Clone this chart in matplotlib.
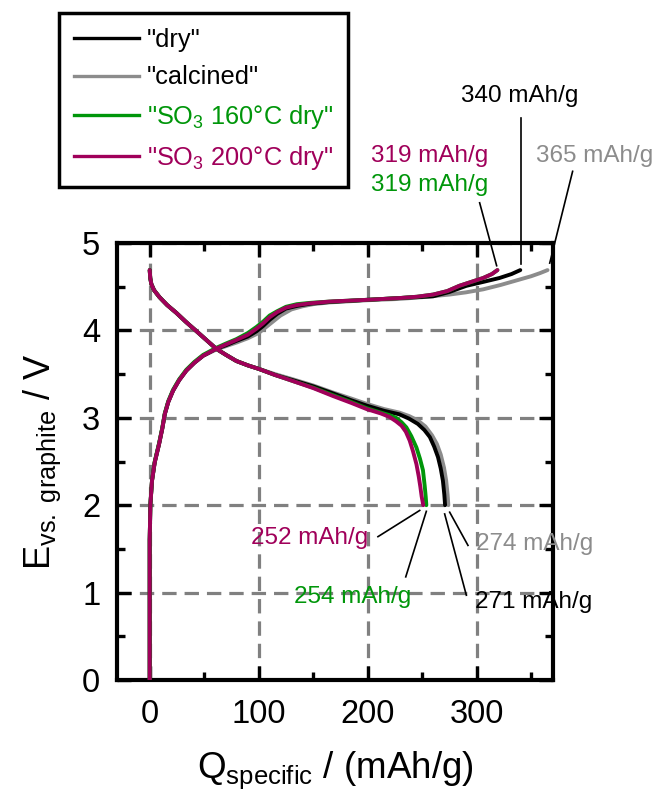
import numpy as np
import matplotlib
matplotlib.use('Agg')
import matplotlib.pyplot as plt

plt.rcParams['font.family'] = ['Liberation Sans', 'DejaVu Sans']
plt.rcParams['mathtext.fontset'] = 'custom'
plt.rcParams['mathtext.rm'] = 'Liberation Sans'
plt.rcParams['mathtext.it'] = 'Liberation Sans:italic'
plt.rcParams['mathtext.default'] = 'regular'

# 충전 곡선 (Q mAh/g, E V)
chg_q_so3_200 = [0, 0, 0.6, 2.1, 4.6, 8.6, 11.6, 13.8, 17, 21.4, 27, 33.6, 41, 49, 61, 70, 79.5, 90, 98,
                 104, 110, 117, 125, 135, 147, 165, 199.7, 229, 245, 260, 273, 284, 295, 306, 314, 319]
chg_e_so3_200 = [0, 1.6, 2.0, 2.28, 2.49, 2.7, 2.88, 3.04, 3.18, 3.31, 3.43, 3.54, 3.63, 3.71, 3.79, 3.84, 3.89, 3.95, 4.02,
                 4.08, 4.15, 4.21, 4.26, 4.29, 4.31, 4.33, 4.35, 4.37, 4.385, 4.41, 4.45, 4.51, 4.555, 4.6, 4.645, 4.69]

chg_q_so3_160 = [0, 0, 0.6, 2.1, 4.6, 8.6, 11.6, 13.8, 17, 21.4, 27, 33.6, 41, 49, 61, 70, 79.5, 90, 98,
                 104, 110, 117, 125, 135, 147, 165, 199.7, 229, 245, 260, 273, 284, 295, 306, 314, 319]
chg_e_so3_160 = [0, 1.6, 2.0, 2.28, 2.5, 2.71, 2.89, 3.05, 3.19, 3.32, 3.44, 3.55, 3.64, 3.72, 3.8, 3.85, 3.9, 3.97, 4.04,
                 4.1, 4.17, 4.22, 4.27, 4.3, 4.315, 4.33, 4.35, 4.37, 4.385, 4.41, 4.45, 4.51, 4.555, 4.6, 4.645, 4.69]

chg_q_dry = [0, 0, 0.6, 2.1, 4.6, 8.6, 11.6, 13.8, 17, 21.4, 27, 33.6, 41, 49, 61, 70, 79.5, 90, 98,
             104, 110, 117, 125, 135, 147, 165, 199.7, 229, 245, 260, 275, 290.5, 306, 321, 332, 340]
chg_e_dry = [0, 1.6, 2.0, 2.28, 2.49, 2.7, 2.88, 3.04, 3.18, 3.31, 3.43, 3.54, 3.63, 3.71, 3.79, 3.83, 3.88, 3.93, 3.99,
             4.05, 4.12, 4.19, 4.25, 4.28, 4.305, 4.325, 4.35, 4.37, 4.38, 4.39, 4.44, 4.51, 4.555, 4.6, 4.645, 4.69]

chg_q_calc = [0, 0, 0.6, 2.1, 4.6, 8.6, 11.6, 13.8, 17, 21.4, 27, 33.6, 41, 49, 61, 70, 79.5, 90, 100,
              110, 120, 130, 140, 150, 165, 199.7, 229, 250, 275, 290, 306, 322, 336, 350, 358, 365]
chg_e_calc = [0, 1.6, 2.0, 2.28, 2.49, 2.7, 2.88, 3.04, 3.18, 3.31, 3.43, 3.54, 3.63, 3.71, 3.78, 3.82, 3.86, 3.91, 3.97,
              4.07, 4.17, 4.24, 4.275, 4.3, 4.32, 4.345, 4.36, 4.38, 4.41, 4.435, 4.47, 4.52, 4.57, 4.62, 4.655, 4.69]

# 방전 곡선
dis_q_so3_200 = [0, 0.5, 1.5, 4, 9, 16, 24.5, 33, 43, 52, 61, 70, 79.5, 90, 100, 115, 131.5, 150, 168, 185,
                 199, 212, 220, 226, 231, 235, 238.5, 241.5, 244.7, 246.8, 248.3, 249.5, 251]
dis_e_so3_200 = [4.69, 4.6, 4.53, 4.46, 4.38, 4.29, 4.2, 4.1, 3.99, 3.89, 3.79, 3.72, 3.65, 3.6, 3.56, 3.49, 3.42, 3.34, 3.25, 3.17,
                 3.1, 3.05, 3.01, 2.96, 2.91, 2.84, 2.74, 2.62, 2.47, 2.33, 2.21, 2.1, 2.0]

dis_q_so3_160 = [0, 0.5, 1.5, 4, 9, 16, 24.5, 33, 43, 52, 61, 70, 79.5, 90, 100, 115, 131.5, 150, 168, 185,
                 199, 212, 220, 226, 231, 235.5, 240, 244.7, 248, 250.7, 252.3, 253.2, 253.8]
dis_e_so3_160 = [4.69, 4.6, 4.53, 4.46, 4.38, 4.29, 4.2, 4.1, 3.99, 3.89, 3.79, 3.72, 3.65, 3.6, 3.56, 3.49, 3.42, 3.345, 3.26, 3.18,
                 3.11, 3.06, 3.03, 3.0, 2.95, 2.89, 2.79, 2.66, 2.53, 2.4, 2.22, 2.1, 2.0]

dis_q_dry = [0, 0.5, 1.5, 4, 9, 16, 24.5, 33, 43, 52, 61, 70, 79.5, 90, 100, 115, 131.5, 150, 168, 185,
             199, 215, 229, 238, 246, 252, 257, 261, 264.5, 267, 269, 270.3, 271]
dis_e_dry = [4.69, 4.6, 4.53, 4.46, 4.38, 4.29, 4.2, 4.1, 3.99, 3.89, 3.79, 3.72, 3.65, 3.6, 3.56, 3.49, 3.43, 3.36, 3.28, 3.2,
             3.14, 3.08, 3.04, 2.99, 2.93, 2.86, 2.78, 2.67, 2.55, 2.42, 2.28, 2.12, 2.0]

dis_q_calc = [0, 0.5, 1.5, 4, 9, 16, 24.5, 33, 43, 52, 61, 70, 79.5, 90, 100, 115, 131.5, 150, 168, 185,
              199, 215, 229, 238, 246, 253, 259, 263.5, 267, 270, 272, 273.3, 274]
dis_e_calc = [4.69, 4.6, 4.53, 4.46, 4.38, 4.29, 4.2, 4.1, 3.99, 3.89, 3.79, 3.72, 3.65, 3.6, 3.56, 3.5, 3.44, 3.37, 3.29, 3.22,
              3.16, 3.1, 3.06, 3.02, 2.97, 2.9, 2.8, 2.7, 2.58, 2.43, 2.28, 2.12, 2.0]

labels = ['"dry"', '"calcined"', '"SO$_3$ 160°C dry"', '"SO$_3$ 200°C dry"']
colors = ['black', '#8c8c8c', '#00960a', '#a0005a']
label_colors = ['black', 'black', '#00960a', '#a0005a']

# 용량 표시 (텍스트, 텍스트 위치, 선 시작, 선 끝, 색)
cap_texts = ['340 mAh/g', '365 mAh/g', '319 mAh/g', '319 mAh/g',
             '271 mAh/g', '274 mAh/g', '254 mAh/g', '252 mAh/g']
cap_colors = ['black', '#8c8c8c', '#a0005a', '#00960a',
              'black', '#8c8c8c', '#00960a', '#a0005a']
cap_text_xy = [(339.5, 6.68), (408, 5.99), (257, 6.0), (257, 5.66),
               (352.5, 0.89), (353, 1.56), (186, 0.95), (147, 1.63)]
cap_line_from = [(341, 6.43), (388, 5.82), (302.7, 5.46), None,
                 (290.5, 0.97), (292, 1.54), (234.9, 1.18), (209.4, 1.64)]
cap_line_to = [(341, 4.76), (367, 4.77), (318.3, 4.74), None,
               (270.6, 1.90), (275.2, 1.92), (253.8, 1.93), (247.7, 1.94)]

fig = plt.figure(figsize=(6.55, 7.97), dpi=100)
ax = fig.add_axes([117/655, 1-680/797, (553-117)/655, (680-243)/797])

charges = [(chg_q_dry, chg_e_dry), (chg_q_calc, chg_e_calc), (chg_q_so3_160, chg_e_so3_160), (chg_q_so3_200, chg_e_so3_200)]
discharges = [(dis_q_dry, dis_e_dry), (dis_q_calc, dis_e_calc), (dis_q_so3_160, dis_e_so3_160), (dis_q_so3_200, dis_e_so3_200)]
zorders = [4, 3, 5, 6]

# 그리는 순서: calcined -> dry -> 160 -> 200
for i in [1, 0, 2, 3]:
    ax.plot(*charges[i], color=colors[i], lw=2.8, zorder=zorders[i], solid_capstyle='round')
    ax.plot(*discharges[i], color=colors[i], lw=2.8, zorder=zorders[i], solid_capstyle='round')

ax.set_xlim(-30, 370)
ax.set_ylim(0, 5)
ax.set_xticks([0, 100, 200, 300])
ax.set_xticks([50, 150, 250, 350], minor=True)
ax.set_yticks([0, 1, 2, 3, 4, 5])
ax.set_yticks(np.arange(0.5, 5, 1), minor=True)
ax.grid(True, which='major', color='#808080', lw=2.3, linestyle=(0, (4.5, 2.5)), zorder=1)
ax.set_axisbelow(True)
ax.tick_params(which='both', direction='in', top=True, right=True, labelsize=23.5, color='black')
ax.tick_params(axis='x', which='major', length=10, width=2.4, pad=14)
ax.tick_params(axis='y', which='major', length=10, width=2.4, pad=12)
ax.tick_params(which='minor', length=6, width=2.4)
for s in ax.spines.values():
    s.set_linewidth(3)

ax.set_xlabel('Q$_{specific}$ / (mAh/g)', fontsize=26.5, labelpad=14)
ax.set_ylabel('E$_{vs.\\ graphite}$ / V', fontsize=26, labelpad=14)

for txt, c, txy, lf, lt in zip(cap_texts, cap_colors, cap_text_xy, cap_line_from, cap_line_to):
    ax.text(txy[0], txy[1], txt, color=c, fontsize=17.5, ha='center', va='center', clip_on=False, zorder=8)
    if lf is not None:
        ax.plot([lf[0], lt[0]], [lf[1], lt[1]], color='black', lw=1.2, clip_on=False, zorder=8)

handles = [plt.Line2D([], [], color=c, lw=2.4) for c in colors]
leg = fig.legend(handles, labels, loc='upper left', bbox_to_anchor=(59/655, 1-13/797),
                 borderaxespad=0, fontsize=18.3, handlelength=2.55, handletextpad=0.3,
                 labelspacing=0.52, borderpad=0.6, fancybox=False, framealpha=1,
                 edgecolor='black', labelcolor=label_colors)
leg.get_frame().set_linewidth(2.5)

fig.savefig('out.png', dpi=100)
